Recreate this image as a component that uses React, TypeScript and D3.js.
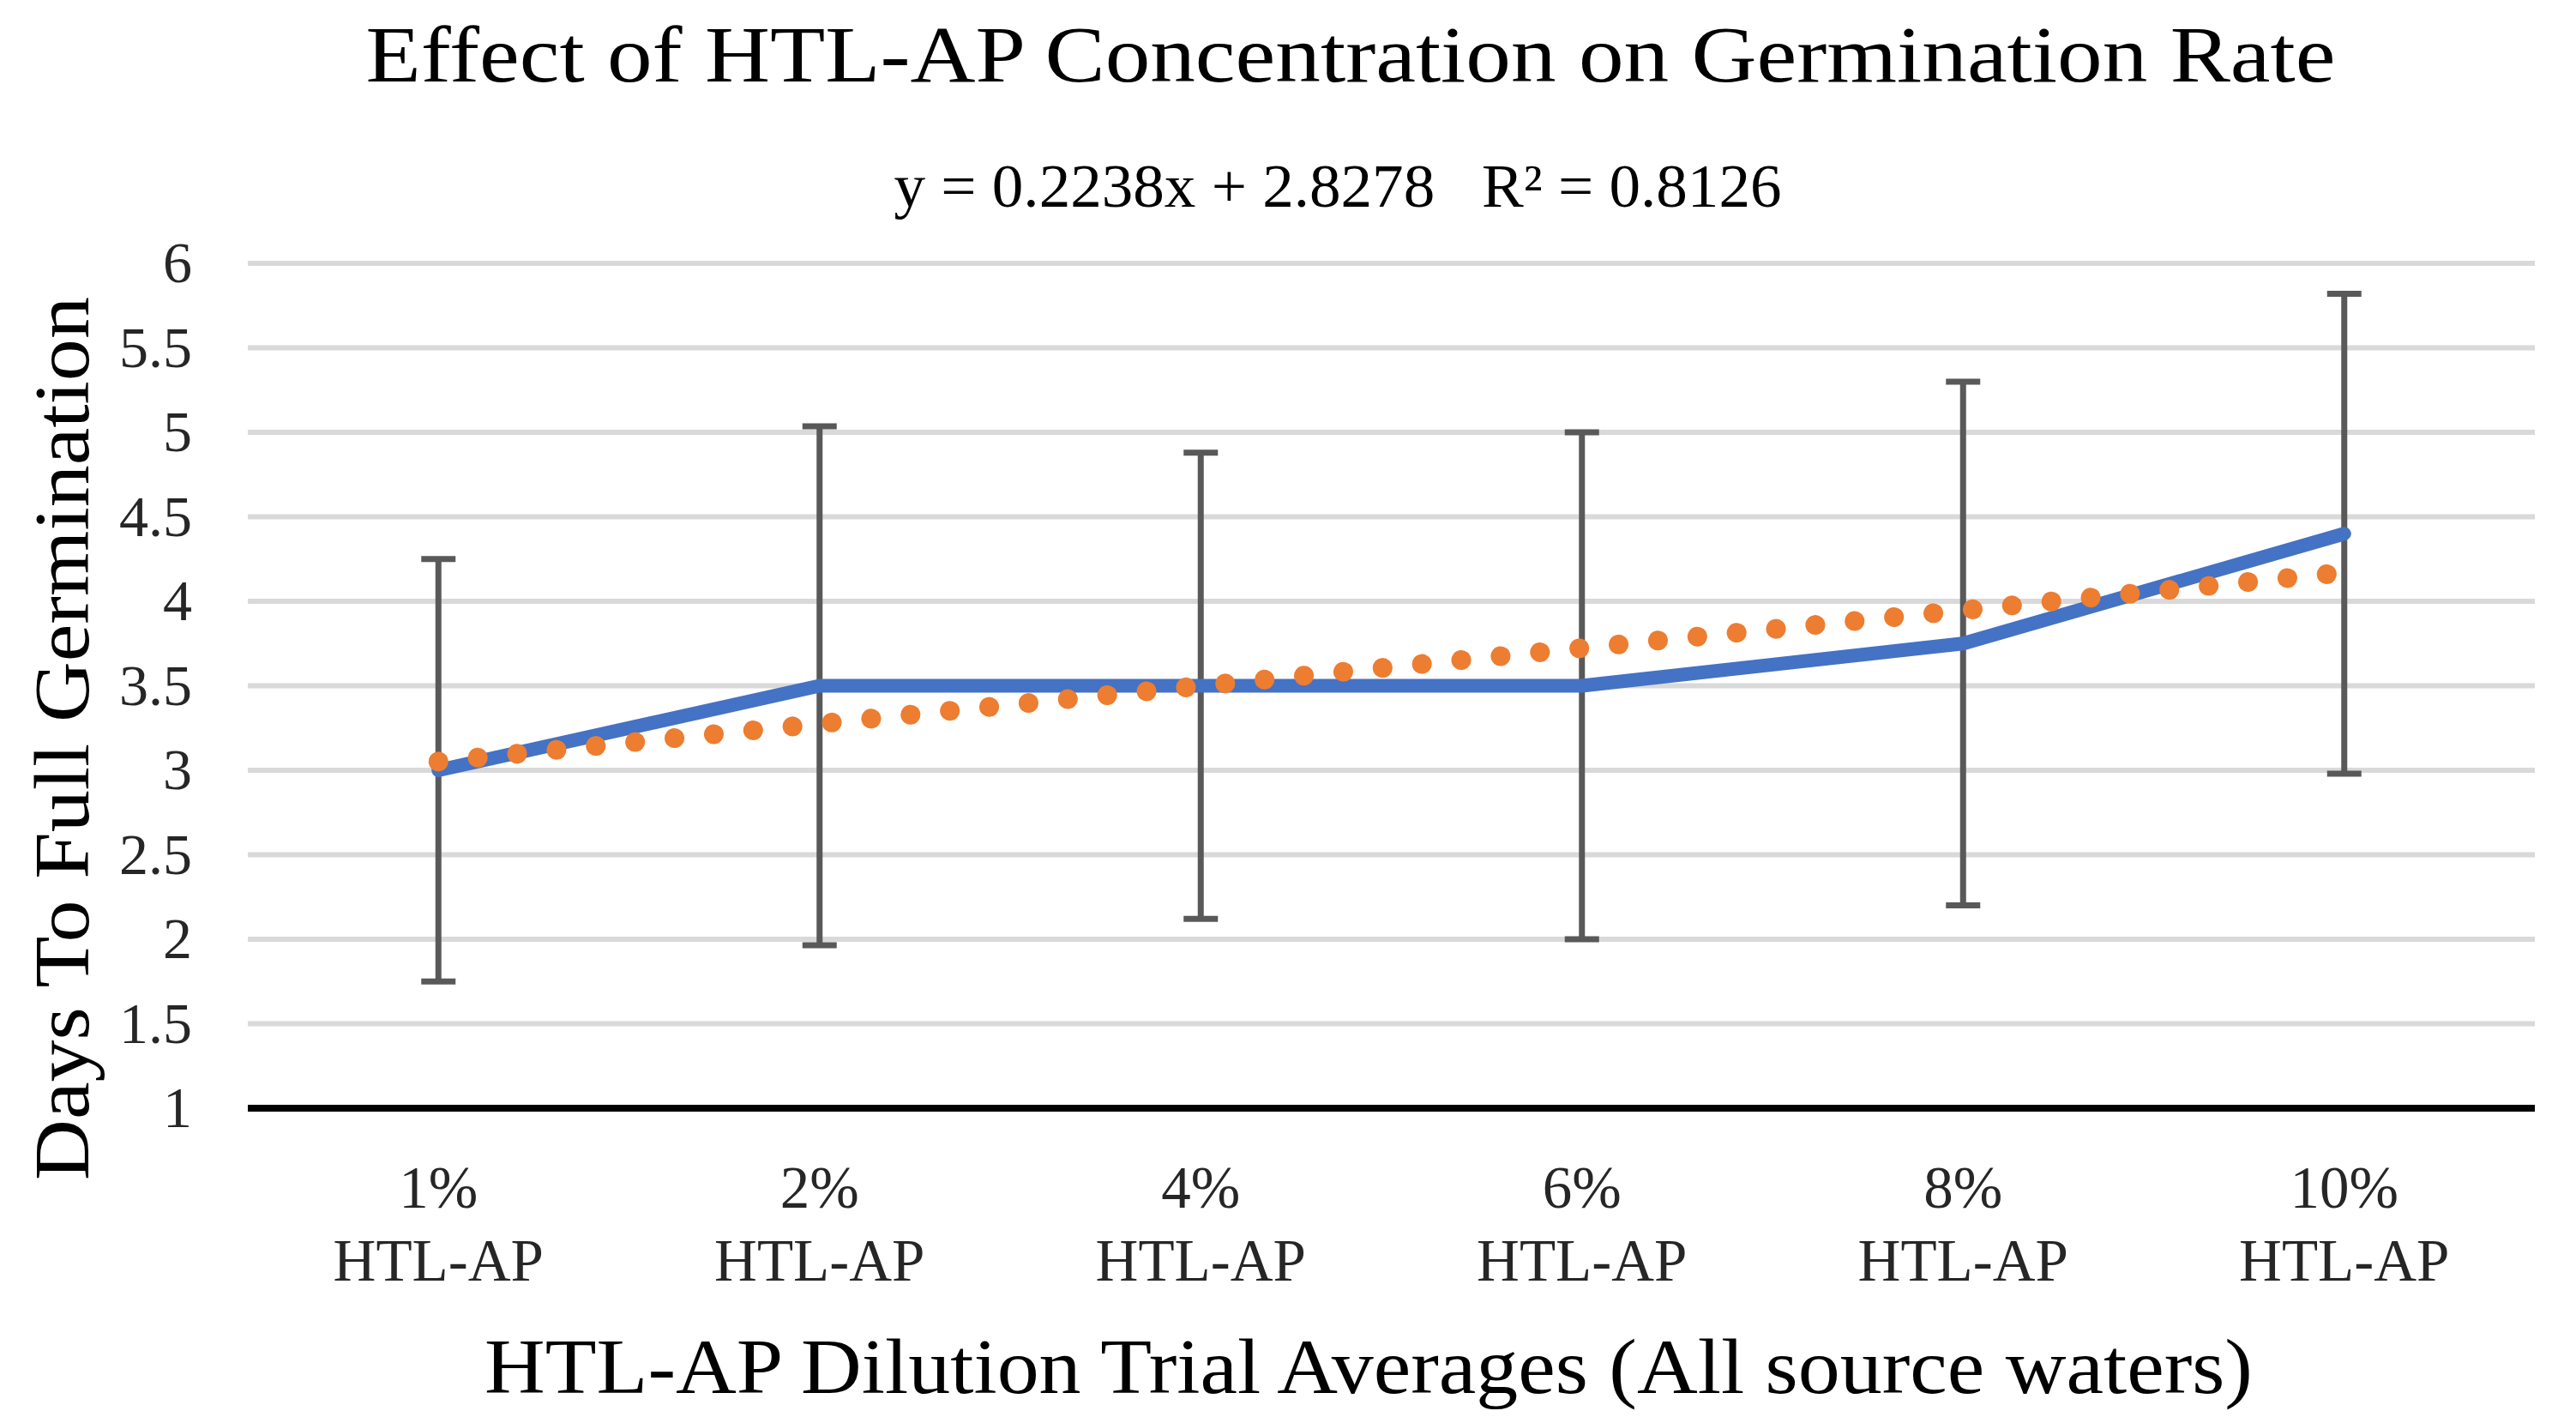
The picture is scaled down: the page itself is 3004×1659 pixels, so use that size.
import React from 'react';
import * as d3 from 'd3';

const categories = ['1%', '2%', '4%', '6%', '8%', '10%'];
const means = [3.0, 3.5, 3.5, 3.5, 3.75, 4.4];
const errors = [1.25, 1.535, 1.38, 1.5, 1.55, 1.42];
const yTicks = [1, 1.5, 2, 2.5, 3, 3.5, 4, 4.5, 5, 5.5, 6];

// linear trendline from the chart's own equation
const trendSlope = 0.2238;
const trendIntercept = 2.8278;
const trendText = 'y = 0.2238x + 2.8278   R² = 0.8126';

const W = 3004;
const H = 1659;
const margin = { top: 307, right: 48, bottom: 367, left: 289 };
const FONT = '"Liberation Serif", "DejaVu Serif", serif';

const App: React.FC = () => {
  const x = d3
    .scalePoint<string>()
    .domain(categories)
    .range([margin.left, W - margin.right])
    .padding(0.5);
  const y = d3
    .scaleLinear()
    .domain([1, 6])
    .range([H - margin.bottom, margin.top]);

  const pts: [number, number][] = categories.map((c, i) => [x(c)!, y(means[i])]);
  const line = d3.line<[number, number]>().x(d => d[0]).y(d => d[1]);

  const trendPts: [number, number][] = categories.map((c, i) => [
    x(c)!,
    y(trendSlope * (i + 1) + trendIntercept),
  ]);
  const trendPath = line([trendPts[0], trendPts[trendPts.length - 1]]);

  const capW = 20;

  return (
    <svg
      width={W}
      height={H}
      style={{ position: 'absolute', left: 0, top: 0, background: '#fff' }}
      fontFamily={FONT}
    >
      <rect width={W} height={H} fill="#fff" />

      {/* title + trend equation */}
      <text x={1575} y={95} fontSize={94} textAnchor="middle" fill="#000" textLength={2297} lengthAdjust="spacingAndGlyphs">
        Effect of HTL-AP Concentration on Germination Rate
      </text>
      <text x={1560} y={241} fontSize={72} textAnchor="middle" fill="#000" style={{ whiteSpace: 'pre' }} textLength={1035} lengthAdjust="spacingAndGlyphs">
        {trendText}
      </text>

      {/* gridlines */}
      <g className="grid">
        {yTicks.filter(t => t > 1).map(t => (
          <line key={t} x1={margin.left} x2={W - margin.right} y1={y(t)} y2={y(t)} stroke="#d9d9d9" strokeWidth={6} />
        ))}
      </g>
      <line x1={margin.left} x2={W - margin.right} y1={y(1)} y2={y(1)} stroke="#000" strokeWidth={8} />

      {/* y ticks */}
      <g className="y-axis" fontSize={68} fill="#262626" textAnchor="end">
        {yTicks.map(t => (
          <text key={t} x={224} y={y(t)} dy="0.33em">{String(t)}</text>
        ))}
      </g>

      {/* x ticks */}
      <g className="x-axis" fontSize={69} fill="#262626" textAnchor="middle">
        {categories.map(c => (
          <g key={c}>
            <text x={x(c)} y={1408}>{c}</text>
            <text x={x(c)} y={1493}>HTL-AP</text>
          </g>
        ))}
      </g>

      {/* error bars */}
      <g className="err" stroke="#595959" strokeWidth={7}>
        {categories.map((c, i) => {
          const cx = x(c)!;
          const y0 = y(means[i] - errors[i]);
          const y1 = y(means[i] + errors[i]);
          return (
            <g key={c}>
              <line x1={cx} x2={cx} y1={y0} y2={y1} />
              <line x1={cx - capW} x2={cx + capW} y1={y0} y2={y0} />
              <line x1={cx - capW} x2={cx + capW} y1={y1} y2={y1} />
            </g>
          );
        })}
      </g>

      {/* series */}
      <path d={line(pts) ?? ''} fill="none" stroke="#4472c4" strokeWidth={16} strokeLinejoin="round" strokeLinecap="round" />

      {/* trendline */}
      <path d={trendPath ?? ''} fill="none" stroke="#ed7d31" strokeWidth={23} strokeLinecap="round" strokeDasharray="0.1 46" />

      {/* axis titles */}
      <text x={1596} y={1624} fontSize={90} textAnchor="middle" fill="#000" textLength={2062} lengthAdjust="spacingAndGlyphs">
        HTL-AP Dilution Trial Averages (All source waters)
      </text>
      <text
        transform={`translate(103, 861) rotate(-90)`}
        fontSize={90}
        textAnchor="middle"
        fill="#000"
        textLength={1030}
        lengthAdjust="spacingAndGlyphs"
      >
        Days To Full Germination
      </text>
    </svg>
  );
};

export default App;
